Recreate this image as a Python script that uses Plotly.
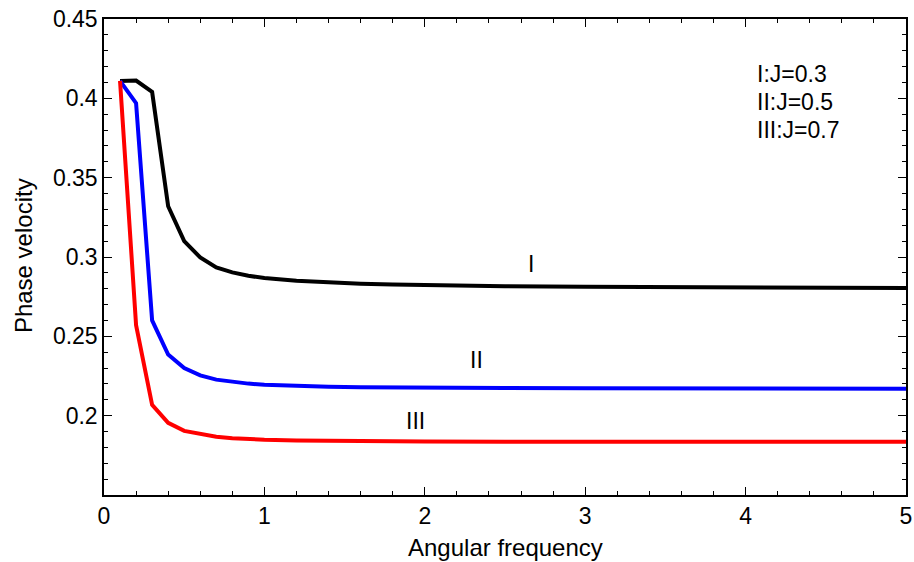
import plotly.graph_objects as go

# Angular frequency samples
omega = [0.1, 0.2, 0.3, 0.4, 0.5, 0.6, 0.7, 0.8, 0.9, 1.0, 1.2, 1.4, 1.6, 1.8, 2.0,
         2.5, 3.0, 3.5, 4.0, 4.5, 5.0]

# Phase velocity for each coupling J
v_j03 = [0.4110, 0.4112, 0.4040, 0.3320, 0.3100, 0.2997, 0.2934, 0.2903, 0.2882, 0.2867,
         0.2850, 0.2838, 0.2831, 0.2826, 0.2822, 0.2816, 0.2812, 0.2810, 0.2808, 0.2806, 0.2805]
v_j05 = [0.4110, 0.3970, 0.2600, 0.2385, 0.2300, 0.2254, 0.2227, 0.2212, 0.2202, 0.2195,
         0.2187, 0.2182, 0.2179, 0.2177, 0.2176, 0.2174, 0.2173, 0.2172, 0.2171, 0.2171, 0.2170]
v_j07 = [0.4110, 0.2570, 0.2068, 0.1955, 0.1904, 0.1883, 0.1867, 0.1858, 0.1852, 0.1848,
         0.1843, 0.1840, 0.1839, 0.1838, 0.1837, 0.1836, 0.1836, 0.1835, 0.1835, 0.1835, 0.1835]

series_names = ["I", "II", "III"]
series_colors = ["#000000", "#0000ff", "#ff0000"]
series_values = [v_j03, v_j05, v_j07]
label_pos = [(2.66, 0.2955), (2.325, 0.2352), (1.945, 0.1965)]
legend_lines = ["I:J=0.3", "II:J=0.5", "III:J=0.7"]
legend_y = [0.884, 0.826, 0.767]

y_ticks = [0.2, 0.25, 0.3, 0.35, 0.4, 0.45]
x_ticks = [0, 1, 2, 3, 4, 5]

FONT = "Liberation Sans, Arial, sans-serif"

fig = go.Figure()
for name, color, vals in zip(series_names, series_colors, series_values):
    fig.add_trace(go.Scatter(x=omega, y=vals, mode="lines", name=name,
                             line=dict(color=color, width=4), showlegend=False))

for name, (lx, ly) in zip(series_names, label_pos):
    fig.add_annotation(x=lx, y=ly, text=name, showarrow=False,
                       font=dict(size=23, color="black", family=FONT))

for line, ly in zip(legend_lines, legend_y):
    fig.add_annotation(x=0.812, y=ly, xref="paper", yref="paper",
                       xanchor="left", yanchor="middle", showarrow=False,
                       text=line, font=dict(size=23, color="black", family=FONT))

# axis titles placed as paper annotations so the margins stay fixed
fig.add_annotation(x=0.5, y=-0.111, xref="paper", yref="paper", showarrow=False,
                   xanchor="center", yanchor="middle", text="Angular frequency",
                   font=dict(size=24, color="black", family=FONT))
fig.add_annotation(x=-0.101, y=0.504, xref="paper", yref="paper", showarrow=False,
                   xanchor="center", yanchor="middle", textangle=-90, text="Phase velocity",
                   font=dict(size=24, color="black", family=FONT))

axis_common = dict(
    showline=True, linecolor="black", linewidth=1.5, mirror="allticks",
    ticks="inside", ticklen=8, tickwidth=1.2, tickcolor="black",
    showgrid=False, zeroline=False, automargin=False,
    tickfont=dict(size=23, color="black", family=FONT),
)

fig.update_xaxes(range=[0, 5], tickmode="array", tickvals=x_ticks,
                 minor=dict(dtick=0.2, tick0=0, ticks="inside", ticklen=4, tickcolor="black", tickwidth=1),
                 **axis_common)
fig.update_yaxes(range=[0.15, 0.45], tickmode="array", tickvals=y_ticks,
                 minor=dict(dtick=0.01, tick0=0.15, ticks="inside", ticklen=4, tickcolor="black", tickwidth=1),
                 **axis_common)

fig.update_layout(width=914, height=562, margin=dict(l=104, r=8, t=19, b=67),
                  plot_bgcolor="white", paper_bgcolor="white")

fig.write_html("out.html")
